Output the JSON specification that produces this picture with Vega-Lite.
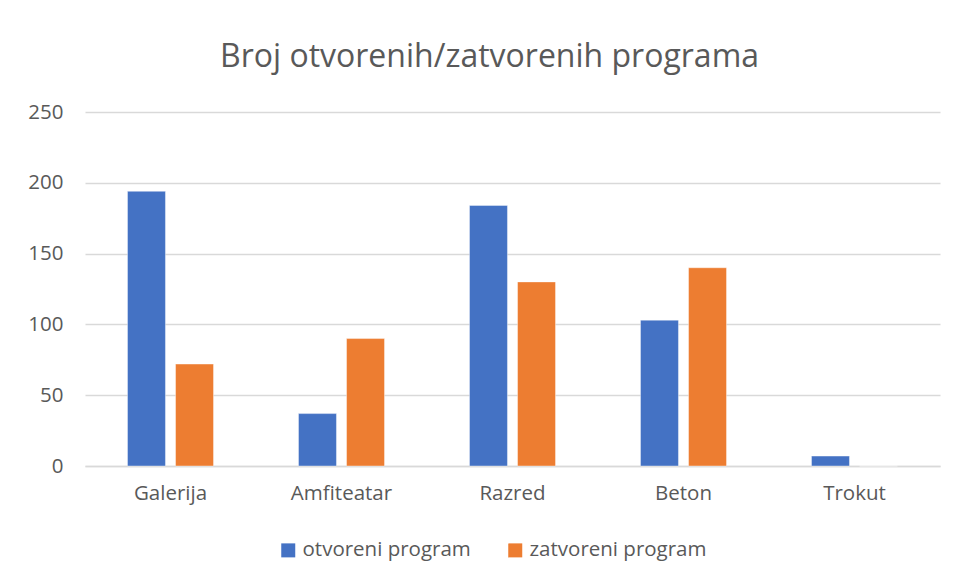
{
  "$schema": "https://vega.github.io/schema/vega-lite/v6.json",
  "width": 855,
  "height": 354,
  "autosize": "none",
  "padding": {"left": 85, "top": 112, "right": 15, "bottom": 117},
  "background": "white",
  "title": {
    "text": "Broj otvorenih/zatvorenih programa",
    "font": "Open Sans",
    "fontSize": 32,
    "fontWeight": "normal",
    "color": "#595959",
    "anchor": "middle",
    "dx": -23,
    "offset": 28
  },
  "data": {
    "values": [
      {"prostor": "Galerija", "vrsta": "otvoreni program", "broj": 194},
      {"prostor": "Galerija", "vrsta": "zatvoreni program", "broj": 72},
      {"prostor": "Amfiteatar", "vrsta": "otvoreni program", "broj": 37},
      {"prostor": "Amfiteatar", "vrsta": "zatvoreni program", "broj": 90},
      {"prostor": "Razred", "vrsta": "otvoreni program", "broj": 184},
      {"prostor": "Razred", "vrsta": "zatvoreni program", "broj": 130},
      {"prostor": "Beton", "vrsta": "otvoreni program", "broj": 103},
      {"prostor": "Beton", "vrsta": "zatvoreni program", "broj": 140},
      {"prostor": "Trokut", "vrsta": "otvoreni program", "broj": 7},
      {"prostor": "Trokut", "vrsta": "zatvoreni program", "broj": 0}
    ]
  },
  "mark": {"type": "bar", "stroke": "white", "strokeOpacity": 0.4, "strokeWidth": 1},
  "encoding": {
    "x": {
      "field": "prostor",
      "type": "nominal",
      "sort": ["Galerija", "Amfiteatar", "Razred", "Beton", "Trokut"],
      "scale": {"paddingInner": 0.497, "paddingOuter": 0.2485},
      "axis": {
        "title": null,
        "labelAngle": 0,
        "labelFont": "Open Sans",
        "labelFontSize": 20.5,
        "labelColor": "#595959",
        "labelPadding": 17,
        "ticks": false,
        "domainColor": "#d9d9d9",
        "domainWidth": 1.5
      }
    },
    "xOffset": {
      "field": "vrsta",
      "type": "nominal",
      "scale": {"paddingInner": 0.21, "paddingOuter": 0}
    },
    "y": {
      "field": "broj",
      "type": "quantitative",
      "scale": {"domain": [0, 250], "nice": false},
      "axis": {
        "title": null,
        "values": [0, 50, 100, 150, 200, 250],
        "labelFont": "Open Sans",
        "labelFontSize": 20.5,
        "labelColor": "#595959",
        "labelPadding": 22,
        "ticks": false,
        "domain": false,
        "gridColor": "#d9d9d9",
        "gridWidth": 1.5
      }
    },
    "color": {
      "field": "vrsta",
      "type": "nominal",
      "scale": {"domain": ["otvoreni program", "zatvoreni program"], "range": ["#4472c4", "#ed7d31"]},
      "legend": {
        "title": null,
        "orient": "none",
        "direction": "horizontal",
        "legendX": 193,
        "legendY": 428,
        "symbolType": "square",
        "symbolSize": 196,
        "symbolStrokeWidth": 0,
        "labelFont": "Open Sans",
        "labelFontSize": 20.5,
        "labelColor": "#595959",
        "labelOffset": 4,
        "labelLimit": 400,
        "columnPadding": 34
      }
    }
  },
  "config": {"view": {"stroke": null}}
}
